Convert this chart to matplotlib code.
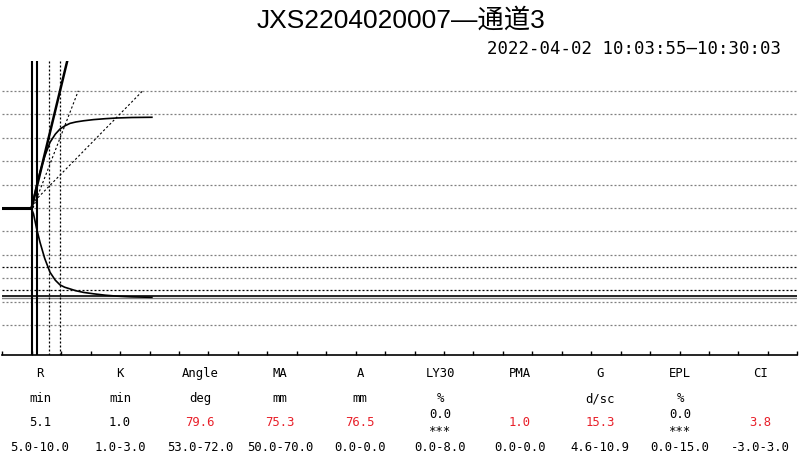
import matplotlib.pyplot as plt
import matplotlib.font_manager as fm

# trace readings (time in min, amplitude in mm)
time_min = [4.9, 5.3, 5.8, 6.4, 7.2, 8.1, 9.0, 9.8, 10.6, 11.5, 12.5, 13.8, 15.5, 17.5, 19.5, 22.0, 25.4]
upper_mm = [0, 3.8, 9.5, 15.3, 22.0, 28.0, 31.5, 33.7, 35.0, 36.1, 36.7, 37.2, 37.7, 38.1, 38.4, 38.6, 38.7]
lower_mm = [0, -2.5, -8.5, -14.6, -21.5, -27.4, -30.8, -32.8, -33.8, -34.5, -35.3, -36.0, -36.6, -37.2, -37.6, -37.9, -38.1]
flat_time = [0, 4.9]

grid_mm = [-50, -40, -30, -20, -10, 0, 10, 20, 30, 40, 50]
ma_range_mm = [-25, -35]
ma_half_mm = -37.65
a_half_mm = -38.25
rk_times = [5.0, 5.85]
dotted_times = [7.98, 9.85]
angle_x, angle_y = [4.99, 11.2], [0, 64.5]
tan_a_x, tan_a_y = [5.21, 12.91], [0, 50]
tan_b_x, tan_b_y = [4.99, 23.85], [1.7, 50]

params = ['R', 'K', 'Angle', 'MA', 'A', 'LY30', 'PMA', 'G', 'EPL', 'CI']
units = ['min', 'min', 'deg', 'mm', 'mm', '%', '', 'd/sc', '%', '']
values = ['5.1', '1.0', '79.6', '75.3', '76.5', '0.0\n***', '1.0', '15.3', '0.0\n***', '3.8']
ranges = ['5.0-10.0', '1.0-3.0', '53.0-72.0', '50.0-70.0', '0.0-0.0',
          '0.0-8.0', '0.0-0.0', '4.6-10.9', '0.0-15.0', '-3.0-3.0']
flagged = [False, False, True, True, True, False, True, True, False, True]

W, H = 800, 460
title_font = fm.FontProperties(family=['Liberation Sans', 'Noto Sans CJK SC'], size=19)
sub_font = fm.FontProperties(family='DejaVu Sans Mono', size=12.5)
table_font = fm.FontProperties(family='DejaVu Sans Mono', size=8.8)

fig = plt.figure(figsize=(8, 4.6), dpi=100)
ax = fig.add_axes([2.3 / W, 1 - 356 / H, 795 / W, 294 / H])
ax.set_xlim(0, 135)
ax.set_ylim(-62.7, 62.7)

for g in grid_mm:
    ax.axhline(g, color='#808080', lw=0.9, ls=(0, (1.6, 1.6)), zorder=1)
for g in ma_range_mm:
    ax.axhline(g, color='black', lw=0.9, ls=(0, (1.6, 1.6)), zorder=2)
ax.axhline(a_half_mm, color='#808080', lw=1.0, zorder=2)
ax.axhline(ma_half_mm, color='black', lw=1.2, zorder=3)

for t in rk_times:
    ax.axvline(t, color='black', lw=1.5, zorder=3)
for t in dotted_times:
    ax.axvline(t, color='black', lw=0.9, ls=(0, (1.6, 1.6)), zorder=2)

ax.plot(angle_x, angle_y, color='black', lw=1.8, zorder=4, solid_capstyle='butt')
ax.plot(tan_a_x, tan_a_y, color='black', lw=0.8, ls=(0, (2, 2)), zorder=2)
ax.plot(tan_b_x, tan_b_y, color='black', lw=0.8, ls=(0, (2, 2)), zorder=2)

ax.plot(flat_time, [0, 0], color='black', lw=2.2, zorder=4)
ax.plot(time_min, upper_mm, color='black', lw=1.2, zorder=4)
ax.plot(time_min, lower_mm, color='black', lw=1.2, zorder=4)

for s in ['top', 'left', 'right']:
    ax.spines[s].set_visible(False)
ax.spines['bottom'].set_linewidth(1.2)
ax.set_xticks(range(0, 136, 5))
ax.set_yticks([])
ax.tick_params(axis='x', direction='in', length=3, width=1, labelbottom=False)

fig.text(401 / W, 1 - 20 / H, 'JXS2204020007—通道3', ha='center', va='center',
         fontproperties=title_font)
fig.text(781 / W, 1 - 49 / H, '2022-04-02 10:03:55—10:30:03', ha='right', va='center',
         fontproperties=sub_font)

for i, p in enumerate(params):
    x = (40 + 80 * i) / W
    fig.text(x, 1 - 374 / H, p, ha='center', va='center', fontproperties=table_font)
    fig.text(x, 1 - 399 / H, units[i], ha='center', va='center', fontproperties=table_font)
    fig.text(x, 1 - 423 / H, values[i], ha='center', va='center', linespacing=1.35,
             color='#e8202a' if flagged[i] else 'black', fontproperties=table_font)
    fig.text(x, 1 - 448 / H, ranges[i], ha='center', va='center', fontproperties=table_font)

plt.savefig('out.png', dpi=100)
